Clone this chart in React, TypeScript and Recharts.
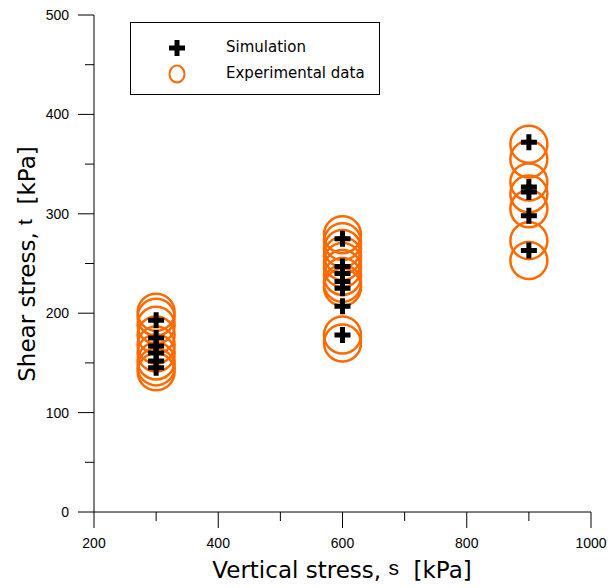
import React from 'react';
import { ScatterChart, Scatter, XAxis, YAxis } from 'recharts';

// vertical stress levels (kPa)
const simX300 = [193, 175, 167, 160, 152, 145];
const simX600 = [275, 247, 240, 232, 225, 207, 178];
const simX900 = [372, 327, 322, 298, 263];

const expX300 = [201, 196, 188, 178, 168, 160, 152, 146, 141];
const expX600 = [279, 272, 265, 258, 252, 245, 237, 230, 226, 178, 170];
const expX900 = [370, 355, 332, 320, 305, 273, 253];

const xTicks = [200, 300, 400, 500, 600, 700, 800, 900, 1000];
const yTicks = [0, 50, 100, 150, 200, 250, 300, 350, 400, 450, 500];

const ORANGE = '#ff6a00';

const toPoints = (x: number, ys: number[]) => ys.map(y => ({ x, y }));

const simData = [...toPoints(300, simX300), ...toPoints(600, simX600), ...toPoints(900, simX900)];
const expData = [...toPoints(300, expX300), ...toPoints(600, expX600), ...toPoints(900, expX900)];

const Cross = ({ cx, cy }: any) => (
  <path
    d={`M${cx - 8},${cy} H${cx + 8} M${cx},${cy - 8} V${cy + 8}`}
    stroke="#000"
    strokeWidth={5}
    fill="none"
  />
);

const Ring = ({ cx, cy }: any) => (
  <circle cx={cx} cy={cy} r={18.5} stroke={ORANGE} strokeWidth={2.5} fill="none" />
);

const XTick = ({ x, y, payload }: any) => {
  const major = payload.value % 200 === 0;
  return (
    <g>
      <line x1={x} x2={x} y1={y} y2={y + (major ? 16 : 9)} stroke="#000" />
      {major && (
        <text x={x} y={y + 36} textAnchor="middle" fontSize={14} fontFamily="Liberation Sans, Arial" fill="#000">
          {payload.value}
        </text>
      )}
    </g>
  );
};

const YTick = ({ x, y, payload }: any) => {
  const major = payload.value % 100 === 0;
  return (
    <g>
      <line x1={x} x2={x - (major ? 16 : 9)} y1={y} y2={y} stroke="#000" />
      {major && (
        <text x={x - 25} y={y + 5} textAnchor="end" fontSize={14} fontFamily="Liberation Sans, Arial" fill="#000">
          {payload.value}
        </text>
      )}
    </g>
  );
};

const LegendBox = () => (
  <div
    style={{
      position: 'absolute',
      left: 130,
      top: 22,
      width: 248,
      height: 71,
      border: '1px solid #000',
      background: '#fff',
      fontFamily: 'DejaVu Sans, Verdana, sans-serif',
      fontSize: 15,
    }}
  >
    <svg width={20} height={20} style={{ position: 'absolute', left: 36, top: 15 }}>
      <path d="M2,10 H18 M10,2 V18" stroke="#000" strokeWidth={5} />
    </svg>
    <span style={{ position: 'absolute', left: 95, top: 15 }}>Simulation</span>
    <svg width={20} height={22} style={{ position: 'absolute', left: 36, top: 40 }}>
      <ellipse cx={10} cy={11} rx={7.5} ry={8.5} stroke={ORANGE} strokeWidth={2} fill="none" />
    </svg>
    <span style={{ position: 'absolute', left: 95, top: 41 }}>Experimental data</span>
  </div>
);

export default function App() {
  return (
    <div style={{ position: 'absolute', left: 0, top: 0, width: 610, height: 588, background: '#fff' }}>
      <ScatterChart width={610} height={588} margin={{ top: 15, right: 19, bottom: 46, left: 34 }}>
        <XAxis
          type="number"
          dataKey="x"
          domain={[200, 1000]}
          ticks={xTicks}
          height={30}
          tickSize={0}
          tickMargin={0}
          tick={<XTick />}
          stroke="#000"
          label={{
            content: () => (
              <text x={342} y={578} textAnchor="middle" fontSize={23} fontFamily="DejaVu Sans, Verdana" fill="#000">
                {'Vertical stress,\u00a0'}
                <tspan fontFamily="Liberation Sans, Arial" fontSize={21} dy={-3}>s</tspan>
                <tspan dy={3}>{'\u00a0\u00a0[kPa]'}</tspan>
              </text>
            ),
          }}
        />
        <YAxis
          type="number"
          dataKey="y"
          domain={[0, 500]}
          ticks={yTicks}
          width={60}
          tickSize={0}
          tickMargin={0}
          tick={<YTick />}
          stroke="#000"
          label={{
            content: () => (
              <text
                x={35}
                y={264}
                textAnchor="middle"
                fontSize={23}
                fontFamily="DejaVu Sans, Verdana"
                fill="#000"
                transform="rotate(-90 35 264)"
              >
                {'Shear stress,\u00a0'}
                <tspan fontFamily="Liberation Sans, Arial" fontSize={21} dy={-3}>t</tspan>
                <tspan dy={3}>{'\u00a0\u00a0[kPa]'}</tspan>
              </text>
            ),
          }}
        />
        <Scatter name="Experimental data" data={expData} shape={<Ring />} isAnimationActive={false} />
        <Scatter name="Simulation" data={simData} shape={<Cross />} isAnimationActive={false} />
      </ScatterChart>
      <LegendBox />
    </div>
  );
}
